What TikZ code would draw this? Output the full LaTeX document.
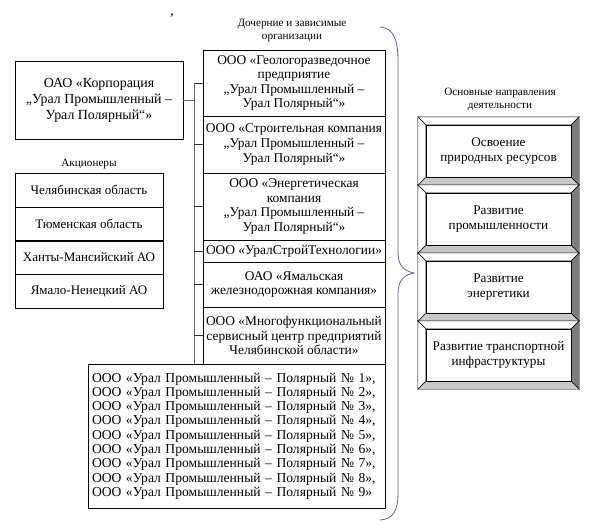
\documentclass[tikz,border=0pt]{standalone}
\usepackage{fontspec}
\setmainfont{Liberation Serif}
\usepackage{tikz}
\usetikzlibrary{arrows,calc}

\definecolor{lilac}{RGB}{112,86,160}
\definecolor{darklilac}{RGB}{50,40,90}
\definecolor{bevelshade}{RGB}{125,125,125}
\definecolor{bevellight}{RGB}{200,200,200}

\begin{document}
\begin{tikzpicture}[x=1pt,y=-1pt,
    box/.style={draw,thin,inner sep=1pt,align=center},
    subbox/.style={box,minimum width=182pt,font=\fontsize{13.4}{14.6}\selectfont},
    ownerbox/.style={box,minimum width=148pt,minimum height=33.7pt,font=\fontsize{13}{14}\selectfont},
    aimbox/.style={inner sep=1pt,align=center,minimum width=145pt,minimum height=52pt,font=\fontsize{13.2}{15}\selectfont},
    heading/.style={align=center,font=\fontsize{11.2}{13}\selectfont},
    link/.style={lilac,line width=0.8pt}]
    \useasboundingbox (0,0) rectangle (593,528);

    \node[font=\bfseries\fontsize{11}{11}\selectfont] (M) at (172,16) {,};

    \node[box,minimum width=168pt,minimum height=78pt,font=\fontsize{13.9}{16}\selectfont] (K) at (99,100) {ОАО «Корпорация\\„Урал Промышленный –\\Урал Полярный“»};

    \node[heading] (AH) at (89,164) {Акционеры};
    \node[ownerbox] (A1) at (89,190) {Челябинская область};
    \node[ownerbox] (A2) at (89,224) {Тюменская область};
    \node[ownerbox] (A3) at (89,257) {Ханты-Мансийский АО};
    \node[ownerbox] (A4) at (89,291) {Ямало-Ненецкий АО};

    \node[heading] (DH) at (292,31) {Дочерние и зависимые\\организации};
    \node[subbox,minimum height=66pt] (D1) at (294,83) {ООО «Геологоразведочное\\предприятие\\„Урал Промышленный –\\Урал Полярный“»};
    \node[subbox,minimum height=57pt] (D2) at (294,144.5) {ООО «Строительная компания\\„Урал Промышленный –\\Урал Полярный“»};
    \node[subbox,minimum height=67pt] (D3) at (294,206.5) {ООО «Энергетическая\\компания\\„Урал Промышленный –\\Урал Полярный“»};
    \node[subbox,minimum height=22pt] (D4) at (294,251) {ООО «УралСтройТехнологии»};
    \node[subbox,minimum height=45pt] (D5) at (294,284.5) {ОАО «Ямальская\\железнодорожная компания»};
    \node[subbox,minimum height=57pt] (D6) at (294,335.5) {ООО «Многофункциональный\\сервисный центр предприятий\\Челябинской области»};
    \node[box,align=left,text width=289pt,inner xsep=4pt,minimum height=144pt,font=\fontsize{13.6}{14.3}\selectfont] (D7) at (236.5,436) {ООО «Урал Промышленный – Полярный № 1»,\\ООО «Урал Промышленный – Полярный № 2»,\\ООО «Урал Промышленный – Полярный № 3»,\\ООО «Урал Промышленный – Полярный № 4»,\\ООО «Урал Промышленный – Полярный № 5»,\\ООО «Урал Промышленный – Полярный № 6»,\\ООО «Урал Промышленный – Полярный № 7»,\\ООО «Урал Промышленный – Полярный № 8»,\\ООО «Урал Промышленный – Полярный № 9»};

    \coordinate (V) at (194,0);
    \draw[link] (K.east) -- (K.east -| V);
    \draw[link] (V |- D1.west) -- (V |- D7.north);
    \foreach \d in {D1,D2,D3,D4,D5,D6}
        \draw[darklilac,line width=0.8pt] (\d.west) -- (\d.west -| V);

    \coordinate (B1) at (380,27);
    \coordinate (B2) at (414,273);
    \coordinate (B3) at (380,520);
    \draw[link] (B1) .. controls (394,28) and (398,40) .. (398,62) -- (398,252)
        .. controls (398,266) and (404,271) .. (B2)
        .. controls (404,275) and (398,280) .. (398,294) -- (398,492)
        .. controls (398,510) and (394,519) .. (B3);

    \node[heading] (NH) at (500,99) {Основные направления\\деятельности};
    \node[aimbox] (N1) at (498.5,151) {Освоение\\природных ресурсов};
    \node[aimbox] (N2) at (498.5,219) {Развитие\\промышленности};
    \node[aimbox] (N3) at (498.5,287) {Развитие\\энергетики};
    \node[aimbox] (N4) at (498.5,355) {Развитие транспортной\\инфраструктуры};
    \foreach \n in {N1,N2,N3,N4}{
        \draw[thin,fill=white] (\n.north west) -- ++(-8,-8) -- ($(\n.north east)+(8,-8)$) -- (\n.north east) -- cycle;
        \draw[thin,fill=bevelshade] (\n.north east) -- ++(8,-8) -- ($(\n.south east)+(8,8)$) -- (\n.south east) -- cycle;
        \draw[thin,fill=bevellight] (\n.south east) -- ++(8,8) -- ($(\n.south west)+(-8,8)$) -- (\n.south west) -- cycle;
        \draw[thin,fill=white] (\n.south west) -- ++(-8,8) -- ($(\n.north west)+(-8,-8)$) -- (\n.north west) -- cycle;
        \draw[thin] (\n.south west) rectangle (\n.north east);
    }

\end{tikzpicture}
\end{document}
